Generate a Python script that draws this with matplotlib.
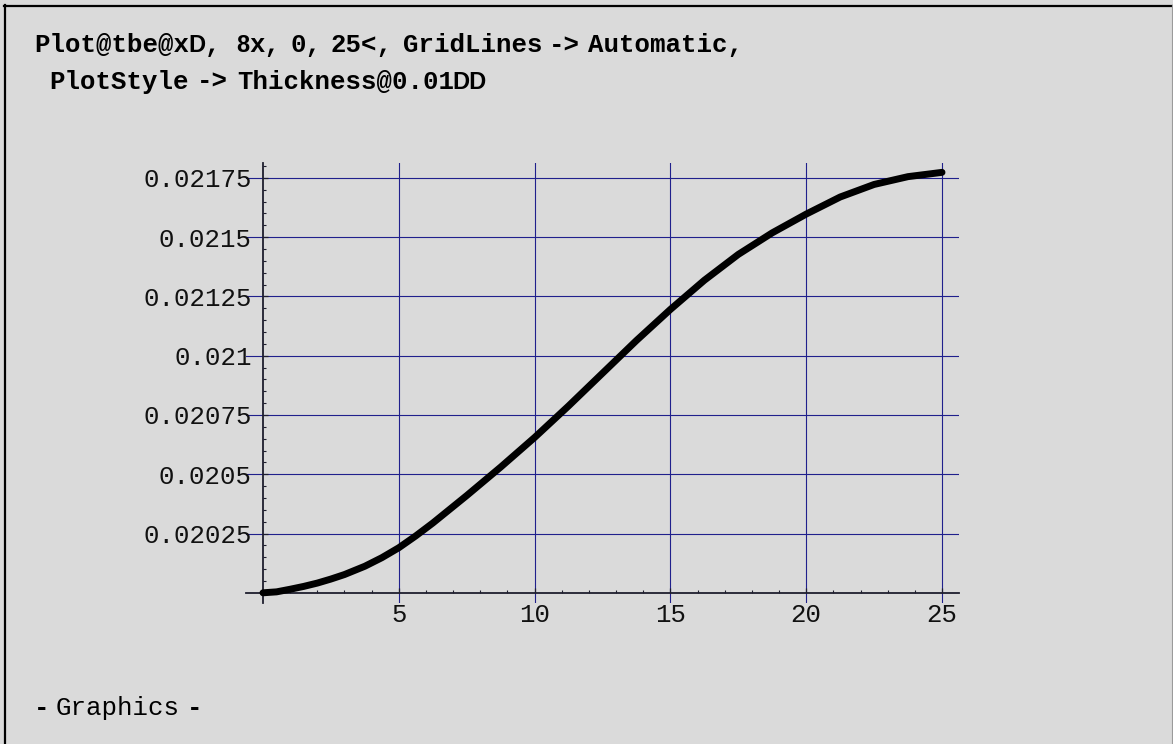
import matplotlib
matplotlib.use("Agg")
import matplotlib.pyplot as plt
from matplotlib.ticker import FixedLocator, FixedFormatter

# values
x_vals = [0, 0.5, 1, 1.5, 2, 2.5, 3, 3.75, 4.375, 5, 5.625, 6.25, 7.5, 8.75,
          10, 11.25, 12.5, 13.75, 15, 16.25, 17.5, 18.75, 20, 21.25, 22.5,
          23.75, 25]
y_vals = [0.020000, 0.020004, 0.020015, 0.020027, 0.020041, 0.020058,
          0.020077, 0.020112, 0.020148, 0.020190, 0.020240, 0.020294,
          0.020410, 0.020530, 0.020655, 0.020788, 0.020926, 0.021064,
          0.021195, 0.021318, 0.021427, 0.021518, 0.021597, 0.021669,
          0.021722, 0.021755, 0.021773]

x_ticks = [5, 10, 15, 20, 25]
x_labels = ["5", "10", "15", "20", "25"]
y_ticks = [0.02025, 0.0205, 0.02075, 0.021, 0.02125, 0.0215, 0.02175]
y_labels = ["0.02025", "0.0205", "0.02075", "0.021", "0.02125", "0.0215", "0.02175"]
x_minor = [i for i in range(1, 25) if i % 5 != 0]
y_minor = [0.02 + 0.00005 * i for i in range(1, 37) if i % 5 != 0]

W, H = 1173, 744
bg = "#dadada"
grid_col = "#20208c"
axis_col = "#1e1e2e"

fig = plt.figure(figsize=(W / 100, H / 100), dpi=100, facecolor=bg)

# axes box in pixels (plot range incl. padding)
left_px, right_px, top_px, bot_px = 246, 959, 162.5, 603
ax = fig.add_axes([left_px / W, 1 - bot_px / H,
                   (right_px - left_px) / W, (bot_px - top_px) / H])
ax.set_facecolor(bg)
ax.set_xlim(-0.626, 25.626)
ax.set_ylim(0.019957, 0.0218146)

ax.plot(x_vals, y_vals, color="black", lw=5, solid_capstyle="round",
        solid_joinstyle="round", zorder=4, clip_on=False)

ax.xaxis.set_major_locator(FixedLocator(x_ticks))
ax.xaxis.set_major_formatter(FixedFormatter(x_labels))
ax.yaxis.set_major_locator(FixedLocator(y_ticks))
ax.yaxis.set_major_formatter(FixedFormatter(y_labels))
ax.xaxis.set_minor_locator(FixedLocator(x_minor))
ax.yaxis.set_minor_locator(FixedLocator(y_minor))

for s in ["top", "right"]:
    ax.spines[s].set_visible(False)
ax.spines["left"].set_position(("data", 0))
ax.spines["bottom"].set_position(("data", 0.02))
for s in ["left", "bottom"]:
    ax.spines[s].set_color(axis_col)
    ax.spines[s].set_linewidth(1.3)
    ax.spines[s].set_zorder(3)

ax.tick_params(which="major", direction="in", length=3.5, width=0.9, color=axis_col,
               labelsize=18.5, labelcolor="#111111")
ax.tick_params(which="minor", direction="in", length=2.2, width=0.8, color=axis_col)
ax.tick_params(axis="y", which="major", pad=8)
ax.tick_params(axis="x", which="major", pad=7)
for lab in ax.get_xticklabels() + ax.get_yticklabels():
    lab.set_family("Liberation Mono")

ax.grid(True, which="major", color=grid_col, lw=0.8)
ax.set_axisbelow(True)

# text runs: (text, family, weight, size, advance in px)
mono_adv = 18.5 * 100 / 72 * 0.6


def put_runs(runs, x0, base):
    x = x0
    for txt, fam, wt, size, adv in runs:
        if txt:
            fig.text(x / W, 1 - base / H, txt, family=fam, weight=wt,
                     fontsize=size, va="baseline", ha="left", color="black")
        x += adv


def mono(txt, wt="bold"):
    return (txt, "Liberation Mono", wt, 18.5, len(txt) * mono_adv)


def sans(txt):
    em = 17 * 100 / 72
    widths = {"D": 0.722, "8": 0.556}
    return (txt, "Liberation Sans", "bold", 17, sum(widths[c] for c in txt) * em)


def gap(px):
    return ("", "", "", 0, px)


put_runs([mono("Plot@tbe@x"), sans("D"), mono(", "), sans("8"),
          mono("x,"), gap(10), mono("0,"), gap(10), mono("25<,"), gap(10),
          mono("GridLines"), gap(8), mono("->"), gap(8),
          mono("Automatic,")], 34, 52.3)
put_runs([gap(mono_adv), mono("PlotStyle"), gap(9), mono("->"), gap(9),
          mono("Thickness@0.01"), sans("DD")], 34, 89)

put_runs([mono("-"), gap(6), mono("Graphics", "normal"), gap(8),
          mono("-")], 34, 715)

# cell frame
fig.add_artist(plt.Line2D([4.5 / W, 4.5 / W], [1 - 5 / H, 0], color="black", lw=1.6))
fig.add_artist(plt.Line2D([3.5 / W, 1], [1 - 5.5 / H, 1 - 5.5 / H], color="black", lw=1.6))
fig.add_artist(plt.Line2D([1171.5 / W, 1171.5 / W], [1 - 5 / H, 0], color="#9a9a9a", lw=0.8))

fig.savefig("out.png", dpi=100, facecolor=bg)
